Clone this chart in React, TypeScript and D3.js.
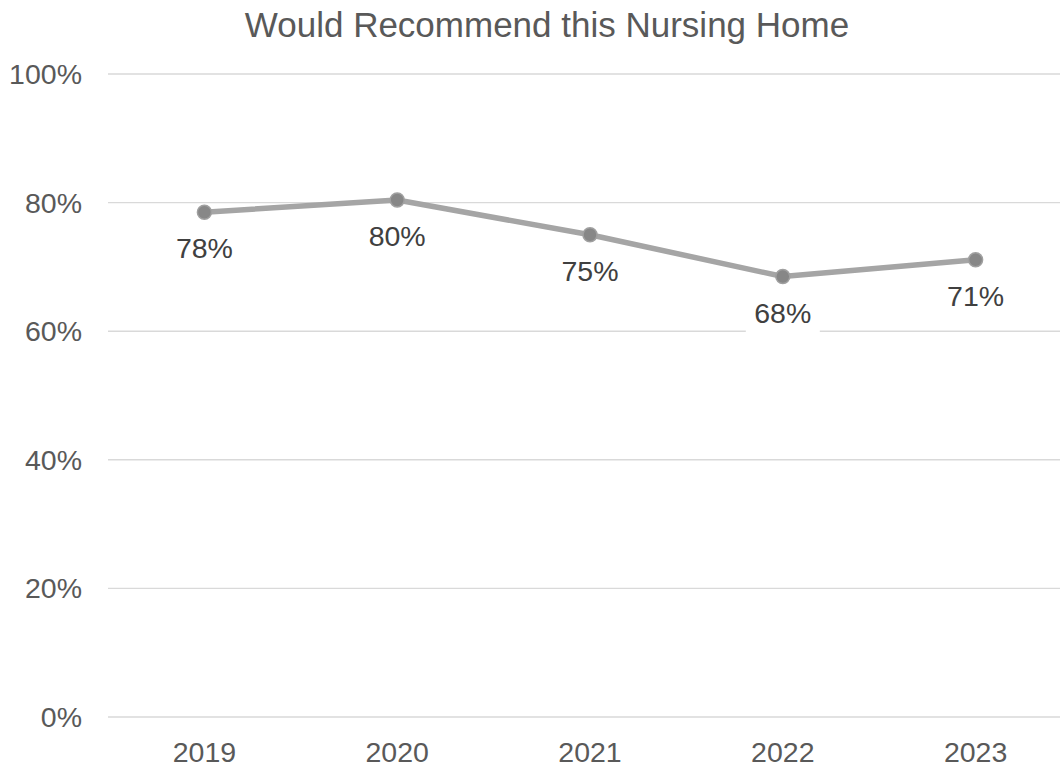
import React from "react";
import * as d3 from "d3";

const years = ["2019", "2020", "2021", "2022", "2023"];
const values = [0.785, 0.804, 0.75, 0.685, 0.711];
const labels = ["78%", "80%", "75%", "68%", "71%"];
const yTicks = [0, 0.2, 0.4, 0.6, 0.8, 1.0];
const title = "Would Recommend this Nursing Home";

const W = 1060;
const H = 769;
const FONT = "Arial, 'Liberation Sans', Helvetica, sans-serif";

export default function App() {
  const x = d3.scaleBand<string>().domain(years).range([108, 1072]);
  const y = d3.scaleLinear().domain([0, 1]).range([717, 74]);
  const cx = (d: string) => (x(d) ?? 0) + x.bandwidth() / 2;
  const line = d3
    .line<number>()
    .x((_, i) => cx(years[i]))
    .y((v) => y(v));
  const fmt = d3.format(".0%");

  return (
    <div style={{ position: "fixed", left: 0, top: 0 }}>
      <svg width={W} height={H} style={{ display: "block", background: "#fff" }} fontFamily={FONT}>
        <text x={547} y={37} textAnchor="middle" fontSize={35} fill="#595959">
          {title}
        </text>
        {yTicks.map((t) => (
          <g key={t}>
            <line x1={108} x2={1072} y1={y(t)} y2={y(t)} stroke="#D9D9D9" strokeWidth={1.4} />
            <text x={82} y={y(t) + 10} textAnchor="end" fontSize={28.5} fill="#595959">
              {fmt(t)}
            </text>
          </g>
        ))}
        {years.map((yr) => (
          <text key={yr} x={cx(yr)} y={762} textAnchor="middle" fontSize={28.5} fill="#595959">
            {yr}
          </text>
        ))}
        <path d={line(values) ?? ""} fill="none" stroke="#A5A5A5" strokeWidth={5.5} strokeLinejoin="round" />
        {values.map((v, i) => (
          <circle key={i} cx={cx(years[i])} cy={y(v)} r={7} fill="#878787" stroke="#A0A0A0" strokeWidth={1.5} />
        ))}
        {values.map((v, i) => (
          <g key={"l" + i}>
            <rect x={cx(years[i]) - 37} y={y(v) + 14} width={74} height={46} fill="#fff" />
            <text x={cx(years[i])} y={y(v) + 46} textAnchor="middle" fontSize={28.5} fill="#404040">
              {labels[i]}
            </text>
          </g>
        ))}
      </svg>
    </div>
  );
}
